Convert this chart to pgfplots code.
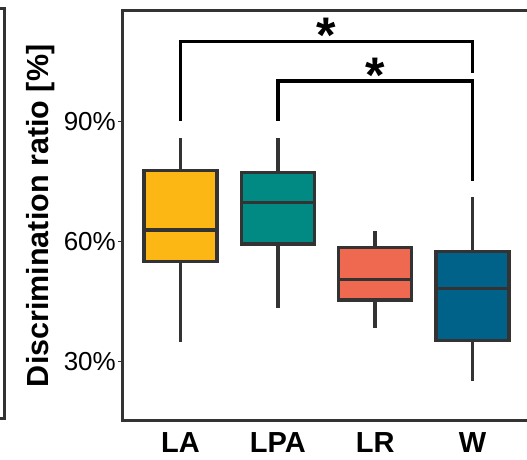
\documentclass[border=0pt]{standalone}
\usepackage{fontspec}
\setmainfont{Liberation Sans}
\usepackage{pgfplots}
\pgfplotsset{compat=1.18}
\usepgfplotslibrary{statistics}
\definecolor{frame}{HTML}{333333}
\definecolor{cLA}{HTML}{FDB714}
\definecolor{cLPA}{HTML}{008A83}
\definecolor{cLR}{HTML}{EE6950}
\definecolor{cW}{HTML}{006289}
\begin{document}
\begin{tikzpicture}
\useasboundingbox (0,0) rectangle (527pt,459pt);
\clip (0,0) rectangle (527pt,459pt);
\draw[frame, line width=3pt] (-3pt,450pt) -- (4.5pt,450pt) -- (4.5pt,41pt) -- (-3pt,41pt);
\begin{axis}[
  at={(122pt,38.3pt)}, anchor=south west,
  scale only axis, width=409pt, height=409.7pt,
  xmin=0.4, xmax=4.6, ymin=15.2, ymax=117.6,
  axis line style={draw=frame, line width=3pt},
  xtick={1,2,3,4}, xticklabels={LA,LPA,LR,W},
  ytick={30,60,90},
  yticklabel={\pgfmathprintnumber{\tick}\%},
  /pgf/number format/assume math mode=true,
  tick align=outside,
  major tick length=4pt,
  ytick style={draw=frame, line width=1.5pt},
  xtick style={draw=none},
  yticklabel style={font=\fontsize{26}{26}\selectfont, anchor=east, inner sep=0pt, xshift=-2pt},
  xticklabel style={font=\fontsize{29}{29}\selectfont\bfseries, anchor=north, inner sep=0pt, yshift=-8pt},
  ylabel={Discrimination ratio [\%]},
  ylabel style={font=\fontsize{30.5}{30.5}\selectfont\bfseries, at={(axis description cs:-0.2,0.5)}, anchor=center},
  boxplot/draw direction=y,
  boxplot/every whisker/.style={draw=frame, line width=3.7pt},
  boxplot/every median/.style={draw=frame, line width=3.3pt},
  boxplot/every box/.style={draw=frame, line width=3.3pt},
  clip=false,
]
\addplot[boxplot prepared={draw position=1, lower whisker=34.95, lower quartile=55.0, median=62.9, upper quartile=77.7, upper whisker=85.8, box extend=0.75, whisker extend=0}, draw=frame, line width=3.3pt, fill=cLA] coordinates {};
\addplot[boxplot prepared={draw position=2, lower whisker=43.3, lower quartile=59.4, median=69.7, upper quartile=77.3, upper whisker=85.8, box extend=0.75, whisker extend=0}, draw=frame, line width=3.3pt, fill=cLPA] coordinates {};
\addplot[boxplot prepared={draw position=3, lower whisker=38.4, lower quartile=45.4, median=50.55, upper quartile=58.55, upper whisker=62.7, box extend=0.75, whisker extend=0}, draw=frame, line width=3.3pt, fill=cLR] coordinates {};
\addplot[boxplot prepared={draw position=4, lower whisker=25.2, lower quartile=35.2, median=48.3, upper quartile=57.45, upper whisker=71.2, box extend=0.75, whisker extend=0}, draw=frame, line width=3.3pt, fill=cW] coordinates {};
\addplot[black, line width=3.5pt] coordinates {(1,90.2) (1,110) (4,110) (4,102.2)};
\addplot[black, line width=3.5pt] coordinates {(2,90.2) (2,100.1) (4,100.1) (4,75)};
\node[anchor=north, inner sep=0pt, font=\fontsize{50}{50}\selectfont\bfseries] at (axis cs:2.5,115.8) {*};
\node[anchor=north, inner sep=0pt, font=\fontsize{50}{50}\selectfont\bfseries] at (axis cs:3.0,105.8) {*};
\end{axis}
\end{tikzpicture}
\end{document}
